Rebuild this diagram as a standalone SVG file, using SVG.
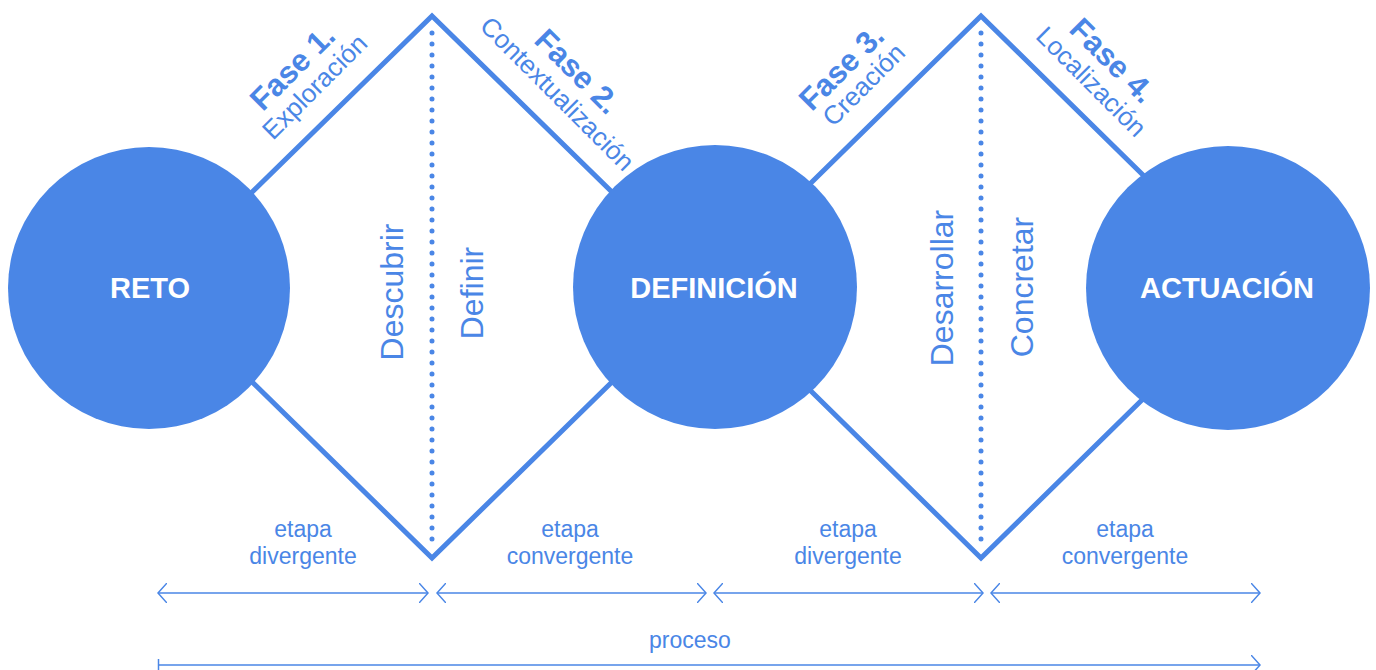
<svg xmlns="http://www.w3.org/2000/svg" width="1376" height="670" viewBox="0 0 1376 670">
<style>
.c{fill:#4A86E6}
.dia{fill:none;stroke:#4A86E6;stroke-width:5;stroke-linejoin:miter}
.dot{stroke:#4A86E6;stroke-width:5;stroke-linecap:round;stroke-dasharray:0 11}
.lbl{font-family:"Liberation Sans",Arial,sans-serif;font-weight:bold;font-size:29px;fill:#fff;text-anchor:middle}
.v{font-family:"Liberation Sans",Arial,sans-serif;font-size:32px;fill:#4A86E6;text-anchor:middle}
.fase{font-family:"Liberation Sans",Arial,sans-serif;font-weight:bold;font-size:31px;fill:#4A86E6;text-anchor:middle}
.sub{font-family:"Liberation Sans",Arial,sans-serif;font-size:26px;fill:#4A86E6;text-anchor:middle}
.et{font-family:"Liberation Sans",Arial,sans-serif;font-size:23px;fill:#4A86E6;text-anchor:middle}
.ar{fill:none;stroke:#4A86E6;stroke-width:1.5}
</style>
<defs>
<marker id="ah" viewBox="0 0 10 20" refX="9" refY="10" markerWidth="10" markerHeight="20" markerUnits="userSpaceOnUse" orient="auto-start-reverse">
<path d="M0,0 L9,10 L0,20" fill="none" stroke="#4A86E6" stroke-width="1.5"/>
</marker>
</defs>
<g id="connectors">
<polygon class="dia" points="155,287 432,16 709,287 432,558"/>
<polygon class="dia" points="705,287 981,16 1257,287 981,558"/>
<line class="dot" x1="432" y1="33" x2="432" y2="545"/>
<line class="dot" x1="981" y1="33" x2="981" y2="545"/>
<line class="ar" x1="158" y1="593" x2="428" y2="593" marker-start="url(#ah)" marker-end="url(#ah)"/>
<line class="ar" x1="437" y1="593" x2="706" y2="593" marker-start="url(#ah)" marker-end="url(#ah)"/>
<line class="ar" x1="714" y1="593" x2="983" y2="593" marker-start="url(#ah)" marker-end="url(#ah)"/>
<line class="ar" x1="991" y1="593" x2="1260" y2="593" marker-start="url(#ah)" marker-end="url(#ah)"/>
<line class="ar" x1="158" y1="665" x2="1260" y2="665" marker-end="url(#ah)"/>
<line class="ar" x1="158.5" y1="659" x2="158.5" y2="671"/>
</g>
<g id="node-reto">
<circle class="c" cx="149" cy="288" r="141"/>
<text class="lbl" x="150" y="298">RETO</text>
</g>
<g id="node-definicion">
<circle class="c" cx="715" cy="287" r="142"/>
<text class="lbl" x="714" y="298">DEFINICIÓN</text>
</g>
<g id="node-actuacion">
<circle class="c" cx="1228" cy="288" r="142"/>
<text class="lbl" x="1227" y="298">ACTUACIÓN</text>
</g>
<g id="labels-vertical">
<text class="v" transform="translate(403,292) rotate(-90)">Descubrir</text>
<text class="v" transform="translate(483,293) rotate(-90)">Definir</text>
<text class="v" transform="translate(953,288) rotate(-90)">Desarrollar</text>
<text class="v" transform="translate(1033,287) rotate(-90)">Concretar</text>
</g>
<g id="fase1">
<text class="fase" transform="translate(300,75) rotate(-45)">Fase 1.</text>
<text class="sub" transform="translate(321,93) rotate(-45)">Exploración</text>
</g>
<g id="fase2">
<text class="fase" transform="translate(570,79) rotate(45)">Fase 2.</text>
<text class="sub" transform="translate(551,100) rotate(45)">Contextualización</text>
</g>
<g id="fase3">
<text class="fase" transform="translate(849,75) rotate(-45)">Fase 3.</text>
<text class="sub" transform="translate(870,91) rotate(-45)">Creación</text>
</g>
<g id="fase4">
<text class="fase" transform="translate(1105,68) rotate(45)">Fase 4.</text>
<text class="sub" transform="translate(1085,88) rotate(45)">Localización</text>
</g>
<g id="etapas">
<text class="et" x="303" y="537">etapa</text>
<text class="et" x="303" y="564">divergente</text>
<text class="et" x="570" y="537">etapa</text>
<text class="et" x="570" y="564">convergente</text>
<text class="et" x="848" y="537">etapa</text>
<text class="et" x="848" y="564">divergente</text>
<text class="et" x="1125" y="537">etapa</text>
<text class="et" x="1125" y="564">convergente</text>
<text class="et" x="690" y="648">proceso</text>
</g>
</svg>
